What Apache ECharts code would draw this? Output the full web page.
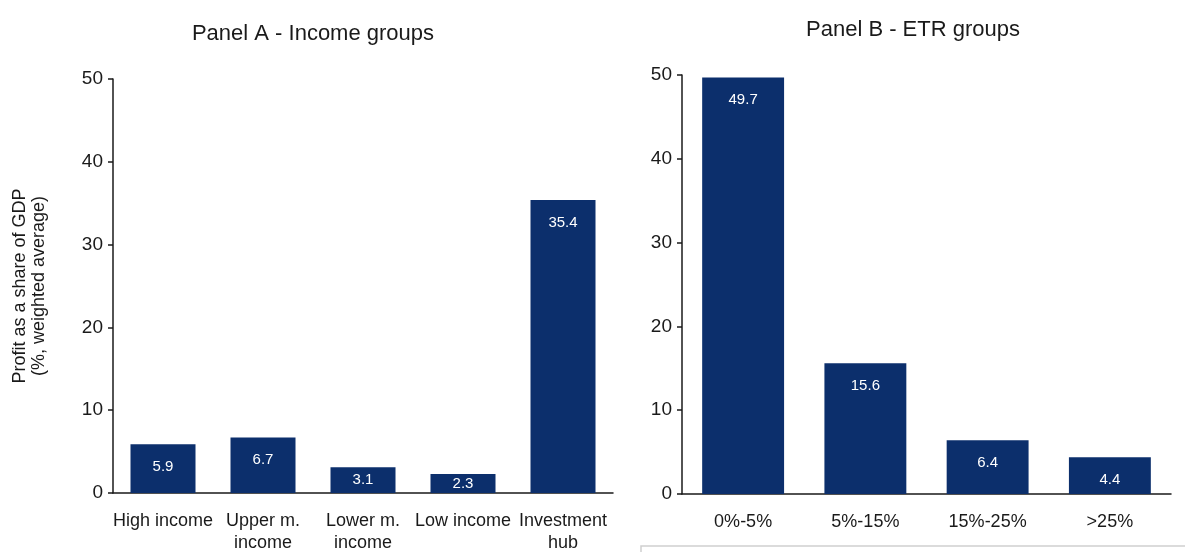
<!DOCTYPE html>
<html>
<head>
<meta charset="utf-8">
<script src="https://cdn.jsdelivr.net/npm/echarts@6/dist/echarts.min.js"></script>
<style>
  html, body { margin: 0; padding: 0; background: #ffffff; }
  #chart { width: 1185px; height: 552px; }
</style>
</head>
<body>
<div id="chart"></div>
<script>
// Panel A: profit as a share of GDP by income group
const incomeGroups = ['High income', 'Upper m.\nincome', 'Lower m.\nincome', 'Low income', 'Investment\nhub'];
const incomeValues = [5.9, 6.7, 3.1, 2.3, 35.4];

// Panel B: profit as a share of GDP by effective tax rate group
const etrGroups = ['0%-5%', '5%-15%', '15%-25%', '>25%'];
const etrValues = [49.7, 15.6, 6.4, 4.4];

// Shared y-axis scale
const yMin = 0, yMax = 50, yStep = 10;

const FONT = '"Liberation Sans", Arial, sans-serif';
const BAR = '#0c2f6c';
const INK = '#1a1a1a';

// Short bars get their value centred; taller bars show it near the top
function barData(values) {
  return values.map(v => v < 4
    ? { value: v, label: { position: 'inside' } }
    : { value: v });
}

function yAxis(gridIndex, withName) {
  const ax = {
    type: 'value', gridIndex, min: yMin, max: yMax, interval: yStep,
    axisLine: { show: true, lineStyle: { color: INK, width: 1.5 } },
    axisTick: { show: true, length: 5, lineStyle: { color: INK, width: 1.5 } },
    splitLine: { show: false },
    axisLabel: { color: INK, fontFamily: FONT, fontSize: 19, margin: 10 }
  };
  if (withName) {
    Object.assign(ax, {
      name: 'Profit as a share of GDP\n(%, weighted average)',
      nameLocation: 'middle', nameRotate: 90, nameGap: 64,
      nameTextStyle: { color: INK, fontFamily: FONT, fontSize: 18, lineHeight: 19 }
    });
  }
  return ax;
}

function xAxis(gridIndex, cats) {
  return {
    type: 'category', gridIndex, data: cats,
    axisLine: { show: true, lineStyle: { color: INK, width: 1.5 } },
    axisTick: { show: false },
    axisLabel: { color: INK, fontFamily: FONT, fontSize: 18, lineHeight: 22, margin: 17, interval: 0 }
  };
}

function barSeries(idx, values, width) {
  return {
    type: 'bar', xAxisIndex: idx, yAxisIndex: idx,
    data: barData(values), barWidth: width,
    itemStyle: { color: BAR },
    label: {
      show: true, position: 'insideTop', distance: 15,
      color: '#ffffff', fontFamily: FONT, fontSize: 15
    }
  };
}

const chart = echarts.init(document.getElementById('chart'), null, { renderer: 'canvas' });
chart.setOption({
  backgroundColor: '#ffffff',
  animation: false,
  title: [
    { text: 'Panel A - Income groups', left: 308, top: 18, textAlign: 'center',
      textStyle: { color: INK, fontFamily: FONT, fontSize: 22, fontWeight: 'normal' } },
    { text: 'Panel B - ETR groups', left: 908, top: 14, textAlign: 'center',
      textStyle: { color: INK, fontFamily: FONT, fontSize: 22, fontWeight: 'normal' } }
  ],
  grid: [
    { left: 113, right: 572, top: 79, bottom: 59, outerBoundsMode: 'none' },
    { left: 682, right: 14, top: 75, bottom: 58, outerBoundsMode: 'none' }
  ],
  xAxis: [xAxis(0, incomeGroups), xAxis(1, etrGroups)],
  yAxis: [yAxis(0, true), yAxis(1, false)],
  series: [barSeries(0, incomeValues, '65%'), barSeries(1, etrValues, '67%')],
  graphic: [
    { type: 'rect', shape: { x: 641, y: 546, width: 560, height: 30 },
      style: { fill: 'none', stroke: '#cfcfcf', lineWidth: 1.5 }, silent: true }
  ]
});
</script>
</body>
</html>
